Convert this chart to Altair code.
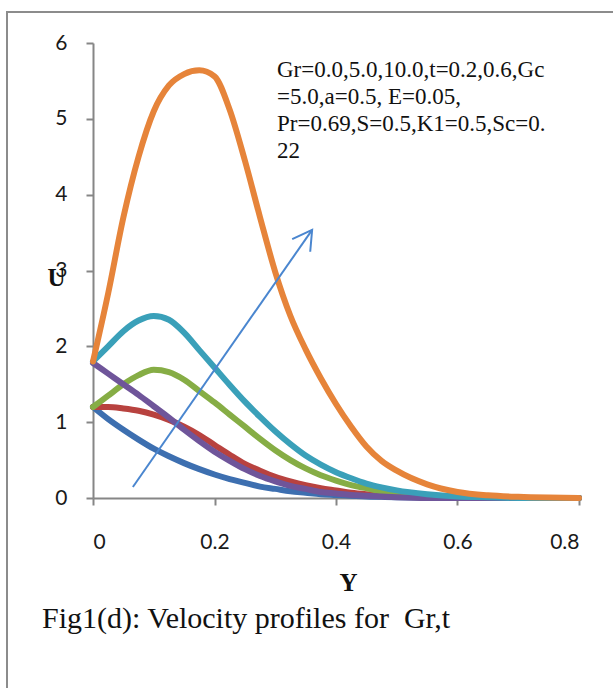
import altair as alt
import pandas as pd

# Dimensionless distance Y at which each velocity profile is sampled
y_pos = [0.0, 0.025, 0.05, 0.075, 0.1, 0.125, 0.15, 0.175, 0.2, 0.225, 0.25,
         0.275, 0.3, 0.325, 0.35, 0.375, 0.4, 0.425, 0.45, 0.475, 0.5,
         0.55, 0.6, 0.65, 0.7, 0.75, 0.8]

# Velocity U for each case of Gr and t
u_series1 = [1.2, 1.04, 0.9, 0.77, 0.65, 0.55, 0.46, 0.38, 0.31, 0.25, 0.2,
             0.15, 0.12, 0.09, 0.07, 0.05, 0.04, 0.03, 0.02, 0.015, 0.01,
             0.005, 0.0, 0.0, 0.0, 0.0, 0.0]
u_series2 = [1.2, 1.2, 1.18, 1.15, 1.1, 1.03, 0.94, 0.83, 0.7, 0.57, 0.45,
             0.36, 0.28, 0.22, 0.17, 0.13, 0.1, 0.07, 0.05, 0.035, 0.025,
             0.01, 0.0, 0.0, 0.0, 0.0, 0.0]
u_series3 = [1.2, 1.35, 1.5, 1.62, 1.69, 1.66, 1.56, 1.41, 1.26, 1.1, 0.94,
             0.78, 0.63, 0.5, 0.39, 0.3, 0.23, 0.17, 0.13, 0.09, 0.07,
             0.03, 0.01, 0.0, 0.0, 0.0, 0.0]
u_series4 = [1.78, 1.64, 1.5, 1.36, 1.21, 1.06, 0.9, 0.75, 0.61, 0.49, 0.38,
             0.29, 0.22, 0.16, 0.12, 0.08, 0.06, 0.04, 0.03, 0.02, 0.01,
             0.0, 0.0, 0.0, 0.0, 0.0, 0.0]
u_series5 = [1.8, 2.0, 2.2, 2.34, 2.4, 2.35, 2.18, 1.95, 1.72, 1.49, 1.27,
             1.07, 0.88, 0.71, 0.56, 0.44, 0.34, 0.26, 0.19, 0.14, 0.1,
             0.05, 0.02, 0.01, 0.0, 0.0, 0.0]
u_series6 = [1.8, 2.7, 3.7, 4.5, 5.1, 5.44, 5.59, 5.64, 5.56, 5.12, 4.45,
             3.7, 2.98, 2.4, 1.96, 1.58, 1.24, 0.94, 0.68, 0.49, 0.36,
             0.18, 0.08, 0.035, 0.015, 0.005, 0.0]

series_names = ["Series1", "Series2", "Series3", "Series4", "Series5", "Series6"]
series_colors = ["#3d6fb0", "#b8423f", "#86ad45", "#6f559a", "#3aa0b9", "#e6843a"]
series_values = [u_series1, u_series2, u_series3, u_series4, u_series5, u_series6]

# Trend arrow (Y, U) from tail to head
arrow_y = [0.0656, 0.3607]
arrow_u = [0.145, 3.536]

note_lines = [
    "Gr=0.0,5.0,10.0,t=0.2,0.6,Gc",
    "=5.0,a=0.5, E=0.05,",
    "Pr=0.69,S=0.5,K1=0.5,Sc=0.",
    "22",
]
caption = "Fig1(d): Velocity profiles for \u00a0Gr,t"

rows = []
for name, vals in zip(series_names, series_values):
    for yv, uv in zip(y_pos, vals):
        rows.append({"series": name, "Y": yv, "U": uv})
profiles = pd.DataFrame(rows)

x_scale = alt.Scale(domain=[0, 0.8], nice=False)
y_scale = alt.Scale(domain=[0, 6], nice=False)

lines = alt.Chart(profiles).mark_line(
    strokeWidth=6, interpolate="monotone", strokeCap="round", strokeJoin="round"
).encode(
    x=alt.X("Y:Q", scale=x_scale,
            axis=alt.Axis(values=[0, 0.2, 0.4, 0.6, 0.8], format="~g",
                          title="Y", titleX=255, titleY=84,
                          titleBaseline="middle", labelPadding=26)),
    y=alt.Y("U:Q", scale=y_scale,
            axis=alt.Axis(values=[0, 1, 2, 3, 4, 5, 6], format="d",
                          title="U", titleAngle=0, titleX=-37, titleY=234,
                          titleAlign="center", titleBaseline="middle",
                          labelPadding=19)),
    color=alt.Color("series:N", scale=alt.Scale(domain=series_names, range=series_colors),
                    legend=None),
    order=alt.Order("Y:Q"),
)

arrow_df = pd.DataFrame({"Y": arrow_y, "U": arrow_u})
arrow_line = alt.Chart(arrow_df).mark_line(color="#4a86cf", strokeWidth=2).encode(
    x=alt.X("Y:Q", scale=x_scale), y=alt.Y("U:Q", scale=y_scale)
)
arrow_head = alt.Chart(arrow_df.iloc[[1]]).mark_point(
    shape="M-0.5,0.866L0,0L0.5,0.866", filled=False, color="#4a86cf",
    strokeWidth=2, size=1936, angle=35, opacity=1
).encode(x=alt.X("Y:Q", scale=x_scale), y=alt.Y("U:Q", scale=y_scale))

note = alt.Chart(pd.DataFrame({"t": ["\n".join(note_lines)]})).mark_text(
    align="left", baseline="alphabetic", font="Liberation Serif", fontSize=23,
    lineHeight=27, lineBreak="\n", color="#111111"
).encode(text="t:N", x=alt.value(184), y=alt.value(34))

cap = alt.Chart(pd.DataFrame({"t": [caption]})).mark_text(
    align="left", baseline="alphabetic", font="Liberation Serif", fontSize=30,
    color="#111111"
).encode(text="t:N", x=alt.value(-51), y=alt.value(585))

frame = alt.Chart(pd.DataFrame({"k": [0]})).mark_rect(
    fill="transparent", stroke="#8c8c8c", strokeWidth=2
).encode(x=alt.value(-86), x2=alt.value(540), y=alt.value(-31), y2=alt.value(670))

chart = alt.layer(frame, lines, arrow_line, arrow_head, note, cap).properties(
    width=486, height=455,
    autosize=alt.AutoSizeParams(type="none"),
    padding={"left": 93, "top": 43, "right": 34, "bottom": 190},
    background="white",
).configure_view(strokeWidth=0).configure_axis(
    grid=False, domainColor="#868686", domainWidth=2, tickColor="#868686",
    tickWidth=2, tickSize=7, labelFont="Lato", labelFontSize=21,
    labelColor="#1a1a1a", titleFont="Liberation Serif", titleFontSize=25,
    titleFontWeight="bold", titleColor="#111111"
)

chart.save("out.html", embed_options={"renderer": "svg", "actions": False})
